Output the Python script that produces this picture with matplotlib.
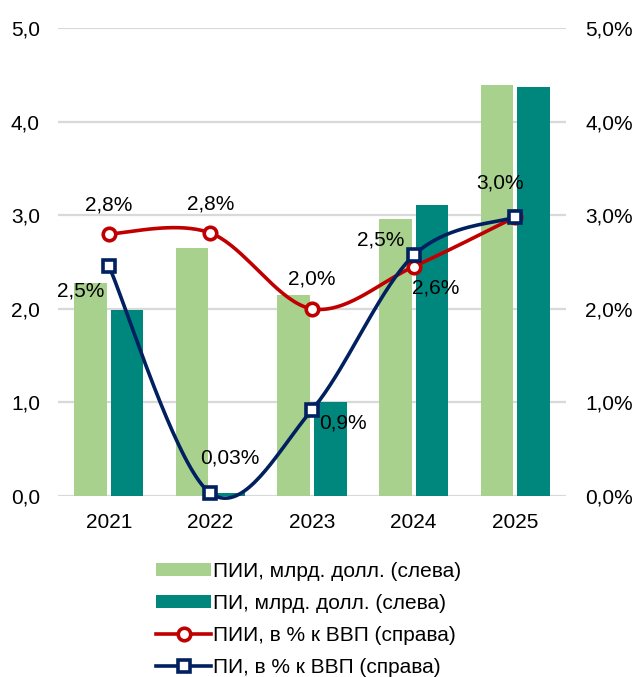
import matplotlib
matplotlib.use("Agg")
import matplotlib.pyplot as plt
import numpy as np
from matplotlib.ticker import FuncFormatter

plt.rcParams['font.family'] = ['Liberation Sans', 'DejaVu Sans']

years = ["2021", "2022", "2023", "2024", "2025"]
pii_bln = [2.28, 2.65, 2.15, 2.96, 4.39]
pi_bln = [1.99, 0.03, 1.00, 3.11, 4.37]
pii_gdp = [2.80, 2.81, 2.00, 2.45, 2.98]
pi_gdp = [2.46, 0.03, 0.92, 2.57, 2.98]
pii_gdp_labels = ["2,8%", "2,8%", "2,0%", "2,5%", "3,0%"]
pi_gdp_labels = ["2,5%", "0,03%", "0,9%", "2,6%", None]
legend_labels = ["ПИИ, млрд. долл. (слева)", "ПИ, млрд. долл. (слева)",
                 "ПИИ, в % к ВВП (справа)", "ПИ, в % к ВВП (справа)"]

c_light = "#a9d18e"
c_teal = "#00877d"
c_red = "#c00000"
c_navy = "#002060"
c_grid = "#d9d9d9"


def smooth(x, y, n=40):
    # catmull-rom through the points, like the smoothed lines of a spreadsheet
    p = np.column_stack([x, y]).astype(float)
    p = np.vstack([p[0], p, p[-1]])
    xs, ys = [], []
    t = np.linspace(0, 1, n)
    for i in range(1, len(p) - 2):
        p0, p1, p2, p3 = p[i - 1], p[i], p[i + 1], p[i + 2]
        b1 = p1 + (p2 - p0) / 6
        b2 = p2 - (p3 - p1) / 6
        seg = ((1 - t) ** 3)[:, None] * p1 + (3 * (1 - t) ** 2 * t)[:, None] * b1 \
            + (3 * (1 - t) * t ** 2)[:, None] * b2 + (t ** 3)[:, None] * p2
        xs.append(seg[:, 0])
        ys.append(seg[:, 1])
    return np.concatenate(xs), np.concatenate(ys)


fig = plt.figure(figsize=(6.35, 6.77), dpi=100)
ax = fig.add_axes([0.0913, 0.2674, 0.8, 0.6912])
ax2 = ax.twinx()

x = np.arange(len(years))
w = 0.32
off = 0.18
b1 = ax.bar(x - off, pii_bln, w, color=c_light, zorder=2)
b2 = ax.bar(x + off, pi_bln, w, color=c_teal, zorder=2)

ax.set_ylim(0, 5)
ax.set_xlim(-0.5, len(years) - 0.5)
ax.set_yticks(np.arange(0, 5.01, 1))
ax.yaxis.set_major_formatter(FuncFormatter(lambda v, _: f"{v:.1f}".replace(".", ",")))
ax.set_xticks(x)
ax.set_xticklabels(years)
ax.grid(axis="y", color=c_grid, linewidth=1.6, zorder=0)
ax.set_axisbelow(True)

ax2.set_ylim(0, 5)
ax2.set_yticks(np.arange(0, 5.01, 1))
ax2.yaxis.set_major_formatter(FuncFormatter(lambda v, _: f"{v:.1f}%".replace(".", ",")))

for a in (ax, ax2):
    for s in a.spines.values():
        s.set_visible(False)
    a.tick_params(length=0, labelsize=15, colors="#000000")
ax.tick_params(axis="y", pad=13)
ax2.tick_params(axis="y", pad=14)
ax.tick_params(axis="x", pad=12.5)

sx, sy = smooth(x, pii_gdp)
l1, = ax2.plot(sx, sy, color=c_red, lw=2.6, clip_on=False, zorder=3)
m1, = ax2.plot(x, pii_gdp, ls="none", marker="o", ms=9, mfc="white", mec=c_red,
               mew=2.6, clip_on=False, zorder=4)
sx, sy = smooth(x, pi_gdp)
l2, = ax2.plot(sx, sy, color=c_navy, lw=2.6, clip_on=False, zorder=5)
m2, = ax2.plot(x, pi_gdp, ls="none", marker="s", ms=9, mfc="white", mec=c_navy,
               mew=2.6, clip_on=False, zorder=6)

red_off = [(0, 29), (0, 29), (0, 30), (-33, 27), (-15, 34)]
navy_off = [(-28, -25), (19, 35), (31, -13), (22, -33), (0, 0)]
for i in range(len(years)):
    ax2.annotate(pii_gdp_labels[i], (x[i], pii_gdp[i]), xytext=red_off[i],
                 textcoords="offset pixels", ha="center", va="center", fontsize=15, zorder=7)
    if pi_gdp_labels[i]:
        ax2.annotate(pi_gdp_labels[i], (x[i], pi_gdp[i]), xytext=navy_off[i],
                     textcoords="offset pixels", ha="center", va="center", fontsize=15, zorder=7)

# legend handles: line with marker for the % series
h3 = plt.Line2D([], [], color=c_red, lw=2.6, marker="o", ms=9, mfc="white", mec=c_red, mew=2.6)
h4 = plt.Line2D([], [], color=c_navy, lw=2.6, marker="s", ms=9, mfc="white", mec=c_navy, mew=2.6)
fig.legend([b1, b2, h3, h4], legend_labels, loc="upper center",
           bbox_to_anchor=(0.486, 0.185), ncol=1, frameon=False, fontsize=15,
           handlelength=2.6, handleheight=0.6, handletextpad=0.1,
           labelspacing=0.62, borderpad=0)

fig.savefig("out.png", dpi=100, facecolor="white")
